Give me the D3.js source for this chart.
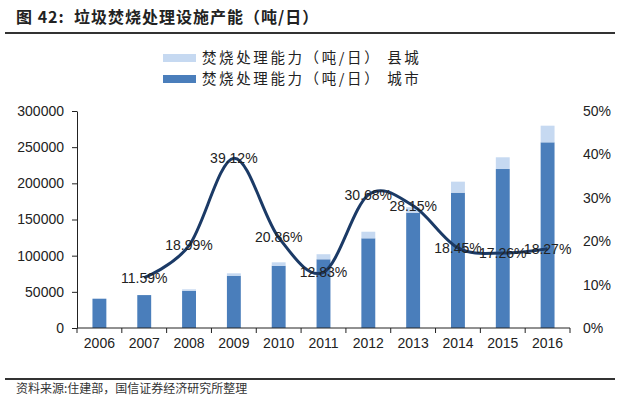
<!DOCTYPE html>
<html lang="zh">
<head>
    <meta charset="UTF-8">
    <title>垃圾焚烧处理设施产能</title>
    <script src="https://d3js.org/d3.v7.min.js"></script>
    <style>
        body { margin: 0; background: #fff; }
        svg { display: block; }
        .axis text { font-family: "Liberation Sans", Arial, sans-serif; font-size: 14px; fill: #222; }
        .axis path, .axis line { stroke: #222; }
        .cjk { font-family: "Noto Sans CJK SC", sans-serif; }
    </style>
</head>
<body>
<div id="chart"></div>
<script>
    // data
    const years = ["2006", "2007", "2008", "2009", "2010", "2011", "2012", "2013", "2014", "2015", "2016"];
    const cityCap = [40500, 45500, 51500, 72300, 86100, 95000, 124000, 159400, 187100, 219800, 256700];
    const countyCap = [0, 0, 2000, 3300, 4700, 7000, 9100, 7600, 15200, 16200, 23000];
    const growthYears = ["2007", "2008", "2009", "2010", "2011", "2012", "2013", "2014", "2015", "2016"];
    const growth = [11.59, 18.99, 39.12, 20.86, 12.83, 30.68, 28.15, 18.45, 17.26, 18.27];
    const leftTicks = [0, 50000, 100000, 150000, 200000, 250000, 300000];
    const rightTicks = [0, 10, 20, 30, 40, 50];
    const seriesNames = ["焚烧处理能力（吨/日） 县城", "焚烧处理能力（吨/日） 城市"];

    const W = 620, H = 397;
    const plotL = 77, plotR = 570, plotT = 111, plotB = 328;
    const darkBlue = "#4a7ebb", lightBlue = "#c6d9f1", lineColor = "#1b3a66";

    const svg = d3.select("#chart").append("svg")
        .attr("width", W)
        .attr("height", H);

    // title + rules
    svg.append("text")
        .attr("class", "cjk")
        .attr("x", 16).attr("y", 23)
        .style("font-size", "16px").style("font-weight", "bold").style("fill", "#222")
        .style("letter-spacing", "1px")
        .style("white-space", "pre")
        .text("图 42:  垃圾焚烧处理设施产能（吨/日）");
    svg.append("line").attr("x1", 5).attr("x2", 615).attr("y1", 33).attr("y2", 33)
        .attr("stroke", "#333").attr("stroke-width", 2);
    svg.append("line").attr("x1", 5).attr("x2", 615).attr("y1", 379).attr("y2", 379)
        .attr("stroke", "#333").attr("stroke-width", 2);
    svg.append("text")
        .attr("class", "cjk")
        .attr("x", 16).attr("y", 393)
        .style("font-size", "12px").style("fill", "#333")
        .text("资料来源:住建部，国信证券经济研究所整理");

    // scales
    const x = d3.scaleBand().domain(years).range([plotL, plotR]).paddingInner(0.69).paddingOuter(0.345);
    const y = d3.scaleLinear().domain([0, 300000]).range([plotB, plotT]);
    const y2 = d3.scaleLinear().domain([0, 50]).range([plotB, plotT]);

    // bars
    const rows = years.map((yr, i) => ({ year: yr, city: cityCap[i], county: countyCap[i] }));
    svg.append("g").selectAll("rect")
        .data(rows).enter().append("rect")
        .attr("x", d => x(d.year))
        .attr("width", x.bandwidth())
        .attr("y", d => y(d.city))
        .attr("height", d => y(0) - y(d.city))
        .attr("fill", darkBlue);
    svg.append("g").selectAll("rect")
        .data(rows.filter(d => d.county > 0)).enter().append("rect")
        .attr("x", d => x(d.year))
        .attr("width", x.bandwidth())
        .attr("y", d => y(d.city + d.county))
        .attr("height", d => y(d.city) - y(d.city + d.county))
        .attr("fill", lightBlue);

    // left axis
    svg.append("g")
        .attr("class", "axis")
        .attr("transform", `translate(${plotL},0)`)
        .call(d3.axisLeft(y).tickValues(leftTicks).tickFormat(d3.format("d"))
            .tickSize(5).tickSizeOuter(0).tickPadding(8));

    // right axis (labels only)
    svg.append("g")
        .attr("class", "axis")
        .attr("transform", `translate(${plotR},0)`)
        .call(d3.axisRight(y2).tickValues(rightTicks).tickSize(0).tickPadding(13).tickFormat(d => d + "%"))
        .call(g => g.select(".domain").remove());

    // bottom axis, ticks between categories
    const xAxis = svg.append("g").attr("class", "axis");
    xAxis.append("line")
        .attr("x1", plotL).attr("x2", plotR)
        .attr("y1", plotB).attr("y2", plotB)
        .attr("stroke", "#222");
    xAxis.selectAll("line.tick")
        .data(d3.range(years.length + 1)).enter().append("line")
        .attr("class", "tick")
        .attr("x1", i => plotL + i * x.step())
        .attr("x2", i => plotL + i * x.step())
        .attr("y1", plotB).attr("y2", plotB + 5)
        .attr("stroke", "#222");
    xAxis.selectAll("text")
        .data(years).enter().append("text")
        .attr("x", d => x(d) + x.bandwidth() / 2)
        .attr("y", plotB + 20)
        .attr("text-anchor", "middle")
        .text(d => d);

    // growth line
    const pts = growthYears.map((yr, i) => ({ year: yr, v: growth[i] }));
    const line = d3.line()
        .x(d => x(d.year) + x.bandwidth() / 2)
        .y(d => y2(d.v))
        .curve(d3.curveCardinal.tension(0));
    svg.append("path")
        .datum(pts)
        .attr("d", line)
        .attr("fill", "none")
        .attr("stroke", lineColor)
        .attr("stroke-width", 3);

    svg.append("g").selectAll("text")
        .data(pts).enter().append("text")
        .attr("x", d => x(d.year) + x.bandwidth() / 2)
        .attr("y", d => y2(d.v))
        .attr("dy", "0.35em")
        .attr("text-anchor", "middle")
        .style("font-family", "'Liberation Sans', Arial, sans-serif")
        .style("font-size", "14px")
        .style("fill", "#222")
        .text(d => d.v.toFixed(2) + "%");

    // legend
    const legend = svg.append("g");
    seriesNames.forEach((name, i) => {
        const ly = 58 + i * 21;
        legend.append("rect")
            .attr("x", 163).attr("y", ly - 4)
            .attr("width", 33).attr("height", 8)
            .attr("fill", i === 0 ? lightBlue : darkBlue);
        legend.append("text")
            .attr("class", "cjk")
            .attr("x", 202).attr("y", ly)
            .attr("dy", "0.35em")
            .style("font-size", "14.5px")
            .style("letter-spacing", "2.6px")
            .style("white-space", "pre")
            .style("fill", "#222")
            .text(name);
    });
</script>
</body>
</html>
